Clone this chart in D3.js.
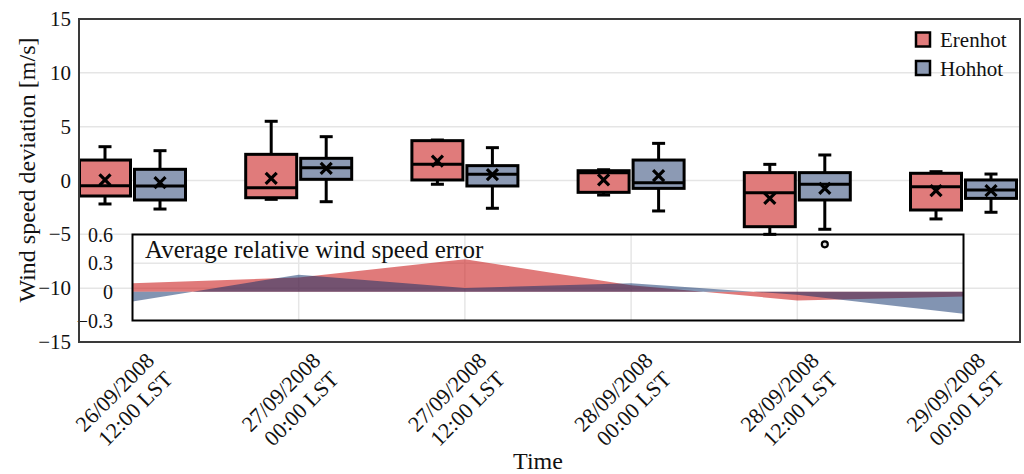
<!DOCTYPE html>
<html>
<head>
<meta charset="utf-8">
<script src="https://cdn.jsdelivr.net/npm/d3@7"></script>
<style>
  body { margin: 0; background: #fff; }
  svg { display: block; }
  text { font-family: "Liberation Serif", "Times New Roman", serif; fill: #111; }
</style>
</head>
<body>
<svg id="chart" width="1024" height="474"></svg>
<script>
// ---- data ----
const categories = [
  "26/09/2008|12:00 LST", "27/09/2008|00:00 LST", "27/09/2008|12:00 LST",
  "28/09/2008|00:00 LST", "28/09/2008|12:00 LST", "29/09/2008|00:00 LST"
];
const seriesNames = ["Erenhot", "Hohhot"];

// Erenhot box statistics (m/s)
const erenhotLow    = [-2.18, -1.75, -0.35, -1.35, -5.00, -3.57];
const erenhotQ1     = [-1.44, -1.60,  0.05, -1.10, -4.29, -2.74];
const erenhotMedian = [-0.48, -0.67,  1.50,  0.72, -1.13, -0.57];
const erenhotQ3     = [ 1.90,  2.43,  3.70,  0.91,  0.73,  0.67];
const erenhotHigh   = [ 3.14,  5.50,  3.76,  1.00,  1.50,  0.82];
const erenhotMean   = [ 0.05,  0.20,  1.81,  0.05, -1.66, -0.94];
const erenhotOutliers = [[], [], [], [], [], []];

// Hohhot box statistics (m/s)
const hohhotLow    = [-2.65, -1.97, -2.58, -2.83, -4.53, -2.95];
const hohhotQ1     = [-1.81,  0.11, -0.51, -0.73, -1.81, -1.66];
const hohhotMedian = [-0.51,  1.19,  0.57, -0.20, -0.35, -0.88];
const hohhotQ3     = [ 1.04,  2.06,  1.38,  1.90,  0.73,  0.05];
const hohhotHigh   = [ 2.77,  4.07,  3.05,  3.45,  2.37,  0.60];
const hohhotMean   = [-0.20,  1.13,  0.55,  0.45, -0.73, -0.94];
const hohhotOutliers = [[], [], [], [], [-5.93], []];

// Average relative wind speed error
const erenhotRelError = [0.09, 0.15, 0.34, 0.07, -0.09, -0.05];
const hohhotRelError  = [-0.10, 0.18, 0.04, 0.09, -0.03, -0.23];

const yTicks = [15, 10, 5, 0, -5, -10, -15];
const yGrid = [10, 5, 0, -5, -10];
const insetTicks = [0.6, 0.3, 0, -0.3];

// ---- drawing ----
const svg = d3.select("#chart");
const plot = { left: 79, top: 19, right: 1020, bottom: 342 };

const x = d3.scaleLinear().domain([0, categories.length - 1]).range([132.5, 963.5]);
const y = d3.scaleLinear().domain([-15, 15]).range([plot.bottom, plot.top]);
const yi = d3.scaleLinear().domain([-0.3, 0.6]).range([320.5, 234.5]);

const boxFill = ["#e07b7b", "#8c9ab4"];
const areaBase = ["rgb(203,33,33)", "rgb(5,41,101)"];
const areaOpacity = [0.6, 0.5];
const boxOffset = [-27.5, 27.5];
const boxHalf = 25.5;
const capHalf = 6.5;

// horizontal grid of the main panel
svg.append("g").selectAll("line").data(yGrid).join("line")
  .attr("x1", plot.left).attr("x2", plot.right)
  .attr("y1", d => y(d)).attr("y2", d => y(d))
  .attr("stroke", "#e5e5e5").attr("stroke-width", 1.5);

// main y tick labels
svg.append("g").selectAll("text").data(yTicks).join("text")
  .attr("x", 71).attr("y", d => y(d))
  .attr("text-anchor", "end").attr("dominant-baseline", "central")
  .style("font-size", "21px")
  .text(d => d < 0 ? "\u2212" + Math.abs(d) : d);

// ---- inset: average relative wind speed error ----
const inset = svg.append("g");
inset.selectAll("line.v").data(d3.range(1, categories.length - 1)).join("line")
  .attr("x1", d => x(d)).attr("x2", d => x(d))
  .attr("y1", yi(0.6)).attr("y2", yi(-0.3))
  .attr("stroke", "#e6e6e6").attr("stroke-width", 1.5);
inset.append("line")
  .attr("x1", x(0)).attr("x2", x(categories.length - 1))
  .attr("y1", yi(0.3)).attr("y2", yi(0.3))
  .attr("stroke", "#e6e6e6").attr("stroke-width", 1.5);

const area = d3.area()
  .x((d, i) => x(i))
  .y0(yi(0))
  .y1(d => yi(d));
[erenhotRelError, hohhotRelError].forEach((vals, s) => {
  inset.append("path").datum(vals)
    .attr("d", area)
    .attr("fill", areaBase[s]).attr("fill-opacity", areaOpacity[s]);
});

inset.append("rect")
  .attr("x", x(0)).attr("y", yi(0.6))
  .attr("width", x(categories.length - 1) - x(0))
  .attr("height", yi(-0.3) - yi(0.6))
  .attr("fill", "none").attr("stroke", "#000").attr("stroke-width", 2);

inset.append("text")
  .attr("x", 145).attr("y", 258)
  .style("font-size", "25px")
  .text("Average relative wind speed error");

inset.append("g").selectAll("text").data(insetTicks).join("text")
  .attr("x", 113).attr("y", d => yi(d))
  .attr("text-anchor", "end").attr("dominant-baseline", "central")
  .style("font-size", "20px")
  .text(d => d3.format("")(d));

// ---- boxes ----
const stats = [
  { low: erenhotLow, q1: erenhotQ1, med: erenhotMedian, q3: erenhotQ3, high: erenhotHigh, mean: erenhotMean, out: erenhotOutliers },
  { low: hohhotLow, q1: hohhotQ1, med: hohhotMedian, q3: hohhotQ3, high: hohhotHigh, mean: hohhotMean, out: hohhotOutliers }
];

stats.forEach((st, s) => {
  const g = svg.append("g");
  categories.forEach((c, i) => {
    const cx = x(i) + boxOffset[s];
    const bg = g.append("g").attr("stroke", "#000").attr("stroke-width", 3);
    // whiskers and caps
    bg.append("line").attr("x1", cx).attr("x2", cx).attr("y1", y(st.high[i])).attr("y2", y(st.q3[i]));
    bg.append("line").attr("x1", cx).attr("x2", cx).attr("y1", y(st.q1[i])).attr("y2", y(st.low[i]));
    bg.append("line").attr("x1", cx - capHalf).attr("x2", cx + capHalf).attr("y1", y(st.high[i])).attr("y2", y(st.high[i]));
    bg.append("line").attr("x1", cx - capHalf).attr("x2", cx + capHalf).attr("y1", y(st.low[i])).attr("y2", y(st.low[i]));
    // box
    bg.append("rect")
      .attr("x", cx - boxHalf).attr("width", 2 * boxHalf)
      .attr("y", y(st.q3[i])).attr("height", y(st.q1[i]) - y(st.q3[i]))
      .attr("fill", boxFill[s]);
    // median
    bg.append("line").attr("x1", cx - boxHalf).attr("x2", cx + boxHalf)
      .attr("y1", y(st.med[i])).attr("y2", y(st.med[i]));
    // mean marker
    const my = y(st.mean[i]), m = 5.5;
    bg.append("path")
      .attr("d", `M${cx - m},${my - m}L${cx + m},${my + m}M${cx - m},${my + m}L${cx + m},${my - m}`)
      .attr("stroke-width", 3.2).attr("fill", "none");
    // outliers
    st.out[i].forEach(v => {
      bg.append("circle").attr("cx", cx).attr("cy", y(v)).attr("r", 3)
        .attr("fill", "#ddd").attr("stroke-width", 2.2);
    });
  });
});

// main frame
svg.append("rect")
  .attr("x", plot.left).attr("y", plot.top)
  .attr("width", plot.right - plot.left).attr("height", plot.bottom - plot.top)
  .attr("fill", "none").attr("stroke", "#3a3a3a").attr("stroke-width", 2);

// x tick labels
categories.forEach((c, i) => {
  const [d, t] = c.split("|");
  const tx = svg.append("text")
    .attr("transform", `translate(${x(i) + 23},362) rotate(-45)`)
    .attr("text-anchor", "end")
    .style("font-size", "22px");
  tx.append("tspan").attr("x", 0).attr("y", 0).text(d);
  tx.append("tspan").attr("x", 0).attr("y", 26).text(t);
});

// axis titles
svg.append("text")
  .attr("x", 538).attr("y", 469)
  .attr("text-anchor", "middle")
  .style("font-size", "24px")
  .text("Time");
svg.append("text")
  .attr("transform", "translate(35,170) rotate(-90)")
  .attr("text-anchor", "middle")
  .style("font-size", "24px")
  .text("Wind speed deviation [m/s]");

// legend
const legend = svg.append("g");
seriesNames.forEach((n, s) => {
  const ly = 40 + s * 28.5;
  legend.append("rect")
    .attr("x", 916).attr("y", ly - 7.5).attr("width", 14).attr("height", 14)
    .attr("fill", boxFill[s]).attr("stroke", "#000").attr("stroke-width", 2.5);
  legend.append("text")
    .attr("x", 940).attr("y", ly + 7)
    .style("font-size", "21px")
    .text(n);
});
</script>
</body>
</html>
